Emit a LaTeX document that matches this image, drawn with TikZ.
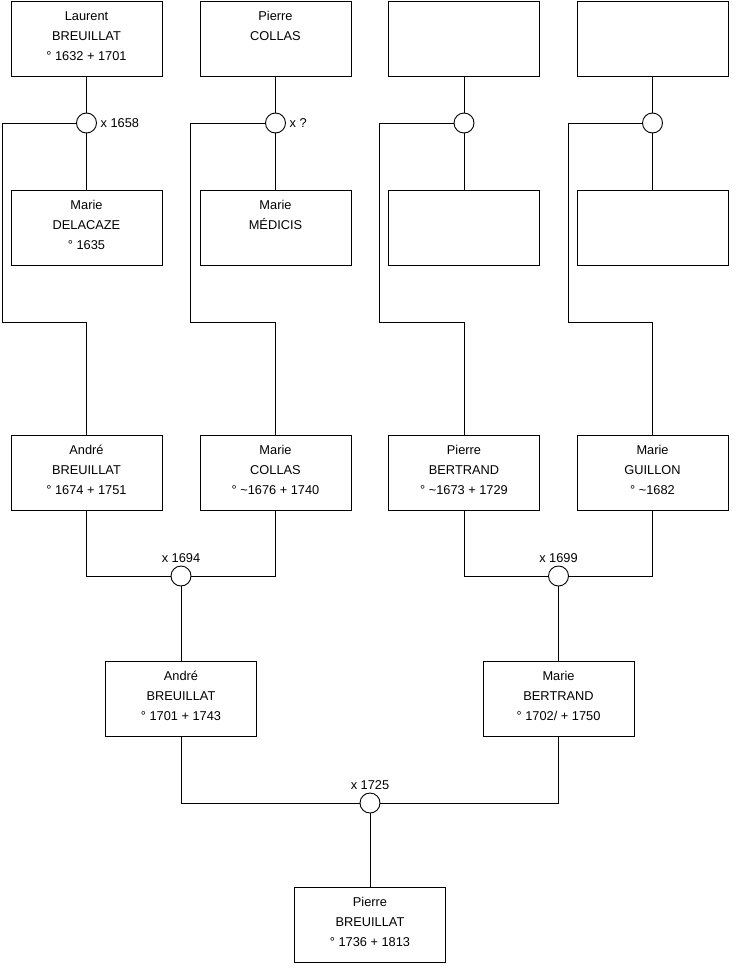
\documentclass[tikz,border=0pt]{standalone}
\usepackage{fontspec}
\setmainfont{Liberation Sans}
\newcommand\pbox[1]{\parbox[c][75pt][t]{151pt}{\fontsize{12.8pt}{20pt}\selectfont\centering\rule{0pt}{19pt}#1}}
\tikzset{
  person/.style={draw, line width=0.9pt, inner sep=0pt, minimum width=151pt, minimum height=75pt, fill=white},
  union/.style={draw, line width=0.9pt, circle, inner sep=0pt, minimum size=20pt, fill=white},
  link/.style={line width=0.9pt},
  mlabel/.style={inner sep=0pt, font=\fontsize{12.8pt}{15pt}\selectfont}
}
\begin{document}
\begin{tikzpicture}[x=1pt, y=-1pt]
\useasboundingbox (0,0) rectangle (740,975);
% row 1
\node[person] (p1) at (86.5,38.5) {\pbox{Laurent\\BREUILLAT\\° 1632 + 1701}};
\node[person] (p2) at (275.5,38.5) {\pbox{Pierre\\COLLAS}};
\node[person] (p3) at (464,38.5) {\pbox{}};
\node[person] (p4) at (652.5,38.5) {\pbox{}};
% row 2
\node[person] (m1) at (86.5,227.5) {\pbox{Marie\\DELACAZE\\° 1635}};
\node[person] (m2) at (275.5,227.5) {\pbox{Marie\\MÉDICIS}};
\node[person] (m3) at (464,227.5) {\pbox{}};
\node[person] (m4) at (652.5,227.5) {\pbox{}};
% unions row 1
\node[union] (u1) at (86.5,123) {};
\node[union] (u2) at (275.5,123) {};
\node[union] (u3) at (464,123) {};
\node[union] (u4) at (652.5,123) {};
\node[mlabel, anchor=west] (l1) at ([xshift=3.5pt]u1.east) {x 1658};
\node[mlabel, anchor=west] (l2) at ([xshift=3.5pt]u2.east) {x ?};
% knees
\coordinate (k1) at (2,322);
\coordinate (k2) at (190.5,322);
\coordinate (k3) at (379,322);
\coordinate (k4) at (568,322);
% row 3
\node[person] (a1) at (86.5,472.5) {\pbox{André\\BREUILLAT\\° 1674 + 1751}};
\node[person] (a2) at (275.5,472.5) {\pbox{Marie\\COLLAS\\° \textasciitilde 1676 + 1740}};
\node[person] (a3) at (464,472.5) {\pbox{Pierre\\BERTRAND\\° \textasciitilde 1673 + 1729}};
\node[person] (a4) at (652.5,472.5) {\pbox{Marie\\GUILLON\\° \textasciitilde 1682}};
% unions row 3
\node[union] (u5) at (181,576) {};
\node[union] (u6) at (558.5,576) {};
\node[mlabel, anchor=base] (l5) at ([yshift=3pt]u5.north) {x 1694};
\node[mlabel, anchor=base] (l6) at ([yshift=3pt]u6.north) {x 1699};
% row 4
\node[person] (d1) at (181,699) {\pbox{André\\BREUILLAT\\° 1701 + 1743}};
\node[person] (d2) at (558.5,699) {\pbox{Marie\\BERTRAND\\° 1702/ + 1750}};
\node[union] (u7) at (370,803) {};
\node[mlabel, anchor=base] (l7) at ([yshift=3pt]u7.north) {x 1725};
% row 5
\node[person] (e1) at (370,925) {\pbox{Pierre\\BREUILLAT\\° 1736 + 1813}};
% connectors row 1-2
\foreach \i in {1,2,3,4} {
  \draw[link] (p\i.south) -- (u\i.north);
  \draw[link] (u\i.south) -- (m\i.north);
  \draw[link] (u\i.west) -| (k\i) -| (a\i.north);
}
% connectors row 3
\draw[link] (a1.south) |- (u5.west);
\draw[link] (a2.south) |- (u5.east);
\draw[link] (a3.south) |- (u6.west);
\draw[link] (a4.south) |- (u6.east);
\draw[link] (u5.south) -- (d1.north);
\draw[link] (u6.south) -- (d2.north);
% connectors row 4
\draw[link] (d1.south) |- (u7.west);
\draw[link] (d2.south) |- (u7.east);
\draw[link] (u7.south) -- (e1.north);
\end{tikzpicture}
\end{document}
